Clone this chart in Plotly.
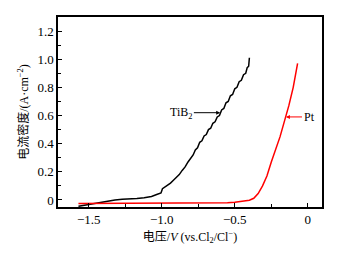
import plotly.graph_objects as go

# TiB2 curve (black)
tib2_x = [-1.57, -1.52, -1.47, -1.42, -1.37, -1.32, -1.27, -1.22, -1.17, -1.12, -1.07, -1.03, -1.005,
          -0.995, -0.98, -0.96, -0.94, -0.92, -0.90, -0.88, -0.86, -0.84, -0.82, -0.80, -0.785,
          -0.77, -0.755, -0.74, -0.725, -0.71, -0.695, -0.68, -0.665, -0.65, -0.635, -0.62,
          -0.605, -0.59, -0.575, -0.56, -0.545, -0.53, -0.515, -0.50, -0.485, -0.47, -0.455,
          -0.44, -0.425, -0.415, -0.405, -0.40]
tib2_y = [-0.045, -0.035, -0.025, -0.015, -0.005, 0.0, 0.005, 0.005, 0.01, 0.015, 0.025, 0.04, 0.05,
          0.08, 0.09, 0.105, 0.12, 0.14, 0.16, 0.18, 0.21, 0.235, 0.27, 0.30, 0.32,
          0.355, 0.37, 0.41, 0.42, 0.455, 0.465, 0.5, 0.51, 0.545, 0.555, 0.59,
          0.60, 0.64, 0.65, 0.69, 0.70, 0.74, 0.75, 0.79, 0.80, 0.84, 0.85,
          0.89, 0.90, 0.94, 0.95, 1.01]

# Pt curve (red)
pt_x = [-1.57, -1.2, -0.8, -0.55, -0.50, -0.45, -0.40, -0.37, -0.34, -0.31, -0.28, -0.25,
        -0.22, -0.19, -0.16, -0.13, -0.10, -0.07]
pt_y = [-0.025, -0.025, -0.023, -0.02, -0.017, -0.012, -0.002, 0.012, 0.045, 0.10, 0.17, 0.27,
        0.36, 0.45, 0.56, 0.67, 0.80, 0.97]

x_tickvals = [-1.5, -1.0, -0.5, 0]
x_ticktext = ["−1.5", "−1.0", "−0.5", "0"]
y_tickvals = [0, 0.2, 0.4, 0.6, 0.8, 1.0, 1.2]
y_ticktext = ["0", "0.2", "0.4", "0.6", "0.8", "1.0", "1.2"]

serif = "Liberation Serif, Times New Roman, serif"
cjk = "Liberation Serif, Noto Sans CJK SC, serif"

fig = go.Figure()
fig.add_trace(go.Scatter(x=tib2_x, y=tib2_y, mode="lines",
                         line=dict(color="black", width=1.5), showlegend=False))
fig.add_trace(go.Scatter(x=pt_x, y=pt_y, mode="lines",
                         line=dict(color="#ff0000", width=1.5), showlegend=False))

fig.add_annotation(x=-0.6, y=0.62, ax=-0.78, ay=0.62, axref="x", ayref="y",
                   text="TiB<sub>2</sub>", showarrow=True, arrowhead=2, arrowsize=0.8,
                   arrowwidth=1, arrowcolor="black", xanchor="right",
                   font=dict(family=serif, size=12, color="black"))
fig.add_annotation(x=-0.15, y=0.59, ax=-0.04, ay=0.59, axref="x", ayref="y",
                   text="Pt", showarrow=True, arrowhead=2, arrowsize=0.8,
                   arrowwidth=1, arrowcolor="#ff0000", xanchor="left",
                   font=dict(family=serif, size=12, color="black"))

fig.update_xaxes(range=[-1.71, 0.097], tickvals=x_tickvals, ticktext=x_ticktext,
                 ticks="inside", ticklen=4, tickcolor="black",
                 minor=dict(dtick=0.25, tick0=0, ticks="inside", ticklen=3, tickcolor="black"),
                 showline=True, linecolor="black", linewidth=1.5, mirror=True,
                 showgrid=False, zeroline=False,
                 tickfont=dict(family=serif, size=13, color="black"),
                 title=dict(text="电压/<i>V</i> (vs.Cl<sub>2</sub>/Cl<sup>−</sup>)",
                            font=dict(family=cjk, size=12, color="black"), standoff=6))
fig.update_yaxes(range=[-0.05, 1.3], tickvals=y_tickvals, ticktext=y_ticktext,
                 ticks="inside", ticklen=4, tickcolor="black",
                 minor=dict(dtick=0.1, tick0=0, ticks="inside", ticklen=3, tickcolor="black"),
                 showline=True, linecolor="black", linewidth=1.5, mirror=True,
                 showgrid=False, zeroline=False,
                 tickfont=dict(family=serif, size=13, color="black"),
                 title=dict(text="电流密度/(A·cm<sup>−2</sup>)",
                            font=dict(family=cjk, size=12, color="black"), standoff=6))

fig.update_layout(width=343, height=254, margin=dict(l=58, r=21, t=17, b=43),
                  plot_bgcolor="white", paper_bgcolor="white")

fig.write_html("out.html", config={"displayModeBar": False},
               post_script="document.body.style.margin='0';")
